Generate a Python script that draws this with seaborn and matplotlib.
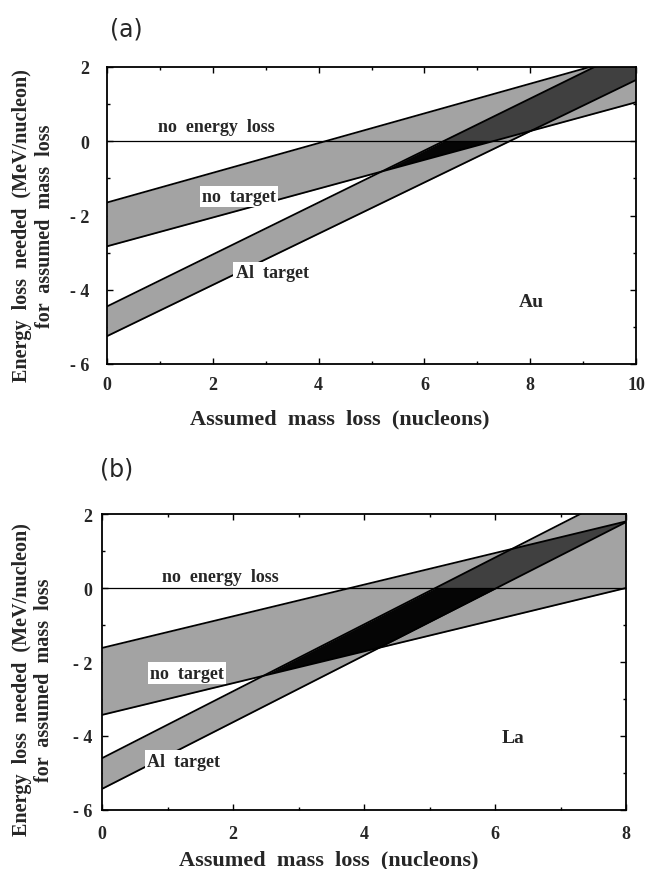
import matplotlib
matplotlib.use("Agg")
import matplotlib.pyplot as plt
from matplotlib.ticker import MultipleLocator, FixedLocator, FixedFormatter
from matplotlib.patches import Rectangle
import seaborn as sns

# ---------------- data ----------------
# Panel (a): Au  -- band edges given at x = 0 and x = 10
a_x = [0, 10]
a_nt_upper = [-1.65, 2.35]
a_nt_lower = [-2.83, 1.05]
a_al_upper = [-4.45, 2.55]
a_al_lower = [-5.25, 1.65]

# Panel (b): La  -- band edges given at x = 0 and x = 8
b_x = [0, 8]
b_nt_upper = [-1.62, 1.80]
b_nt_lower = [-3.43, 0.00]
b_al_upper = [-4.60, 2.63]
b_al_lower = [-5.43, 1.78]

y_ticks = [-6, -4, -2, 0, 2]
y_tick_labels = ["- 6", "- 4", "- 2", "0", "2"]
a_x_ticks = [0, 2, 4, 6, 8, 10]
b_x_ticks = [0, 2, 4, 6, 8]

# ---------------- style ----------------
sns.set_theme(style="ticks")
plt.rcParams["font.family"] = ["Liberation Serif", "DejaVu Serif"]
plt.rcParams["font.weight"] = "bold"
plt.rcParams["axes.labelweight"] = "bold"

LIGHT = "#a3a3a3"
DARK = "#404040"
BLACK = "#050505"
SERIF = ["Liberation Serif", "DejaVu Serif"]

fig = plt.figure(figsize=(6.49, 8.70), dpi=100)
ax_a = fig.add_axes([107 / 649, (870 - 365) / 870, 529 / 649, 297 / 870])
ax_b = fig.add_axes([102 / 649, (870 - 811) / 870, 524 / 649, 296 / 870])


def draw_panel(ax, x, ntu, ntl, alu, all_, xticks, ytick_pad, xtick_pad):
    xmax = x[-1]
    ax.set_facecolor("white")
    nt = ax.fill_between(x, ntl, ntu, color=LIGHT, lw=0, zorder=1)
    ax.fill_between(x, all_, alu, color=LIGHT, lw=0, zorder=1)
    nt_path = nt.get_paths()[0]

    # overlap of the two bands: black below zero, dark grey above zero
    ov = ax.fill_between(x, all_, alu, color=BLACK, lw=0, zorder=2)
    ov.set_clip_path(nt_path, ax.transData)
    up_pos = [v > 0 for v in alu]
    lo_pos = [v > 0 for v in all_]
    dk = ax.fill_between(x, 0, alu, where=up_pos, interpolate=True,
                         color=DARK, lw=0, zorder=2.1)
    dk.set_clip_path(nt_path, ax.transData)
    lt = ax.fill_between(x, 0, all_, where=lo_pos, interpolate=True,
                         color=LIGHT, lw=0, zorder=2.2)
    lt.set_clip_path(nt_path, ax.transData)
    # mask anything poking out above the frame
    ax.add_patch(Rectangle((0, 2.0), xmax * 1.02, 1.5, facecolor="white",
                           edgecolor="none", zorder=2.5, clip_on=False))

    for edge in (ntu, ntl, alu, all_):
        sns.lineplot(x=x, y=edge, color="black", lw=1.3, ax=ax, zorder=3,
                     legend=False)
    ax.axhline(0, color="black", lw=0.9, zorder=3)

    ax.set_xlim(0, xmax)
    ax.set_ylim(-6, 2)
    ax.xaxis.set_major_locator(FixedLocator(xticks))
    ax.xaxis.set_minor_locator(MultipleLocator(1))
    ax.yaxis.set_major_locator(FixedLocator(y_ticks))
    ax.yaxis.set_major_formatter(FixedFormatter(y_tick_labels))
    ax.yaxis.set_minor_locator(MultipleLocator(1))
    ax.tick_params(which="both", direction="in", top=True, right=True,
                   width=1.0, color="black")
    ax.tick_params(which="major", length=4)
    ax.tick_params(which="minor", length=2.5)
    ax.tick_params(axis="y", which="major", pad=ytick_pad)
    ax.tick_params(axis="x", which="major", pad=xtick_pad)
    for lab in ax.get_xticklabels() + ax.get_yticklabels():
        lab.set_fontsize(13)
        lab.set_fontweight("bold")
        lab.set_family(SERIF)
    for sp in ax.spines.values():
        sp.set_linewidth(1.3)
        sp.set_color("black")
        sp.set_zorder(4)


draw_panel(ax_a, a_x, a_nt_upper, a_nt_lower, a_al_upper, a_al_lower,
           a_x_ticks, 13, 9)
draw_panel(ax_b, b_x, b_nt_upper, b_nt_lower, b_al_upper, b_al_lower,
           b_x_ticks, 7, 11)

txt = dict(fontsize=13, fontweight="bold", family=SERIF, ha="center",
           va="center", zorder=5)
box = dict(facecolor="white", edgecolor="none", pad=1.5)

# Panel (a) annotations
ax_a.text(2.06, 0.40, "no  energy  loss", **txt)
ax_a.text(2.50, -1.48, "no  target", bbox=box, **txt)
ax_a.text(3.12, -3.53, "Al  target", bbox=box, **txt)
ax_a.text(8.02, -4.31, "Au", **dict(txt, fontsize=14))

# Panel (b) annotations
ax_b.text(1.80, 0.32, "no  energy  loss", **txt)
ax_b.text(1.30, -2.30, "no  target", bbox=box, **txt)
ax_b.text(1.24, -4.68, "Al  target", bbox=box, **txt)
ax_b.text(6.28, -4.05, "La", **dict(txt, fontsize=14))

# Axis labels
ylab = "Energy  loss  needed  (MeV/nucleon)\nfor  assumed  mass  loss"
xlab = "Assumed  mass  loss  (nucleons)"
for ax, xl_coords, yl_coords in [
    (ax_a, (0.44, -0.185), (-0.139, 0.468)),
    (ax_b, (0.433, -0.166), (-0.131, 0.443)),
]:
    ax.set_xlabel(xlab, fontsize=16, fontweight="bold", family=SERIF)
    ax.xaxis.set_label_coords(*xl_coords)
    ax.xaxis.label.set_va("center")
    ax.set_ylabel(ylab, fontsize=14.5, fontweight="bold", family=SERIF,
                  linespacing=1.15, multialignment="center")
    ax.yaxis.set_label_coords(*yl_coords)
    ax.yaxis.label.set_va("center")

# Panel labels
fig.text(126 / 649, 1 - 30 / 870, "(a)", fontsize=17, family="DejaVu Sans",
         fontweight="normal", ha="center", va="center")
fig.text(117 / 649, 1 - 470 / 870, "(b)", fontsize=17, family="DejaVu Sans",
         fontweight="normal", ha="center", va="center")

fig.savefig("out.png", dpi=100, facecolor="white")
